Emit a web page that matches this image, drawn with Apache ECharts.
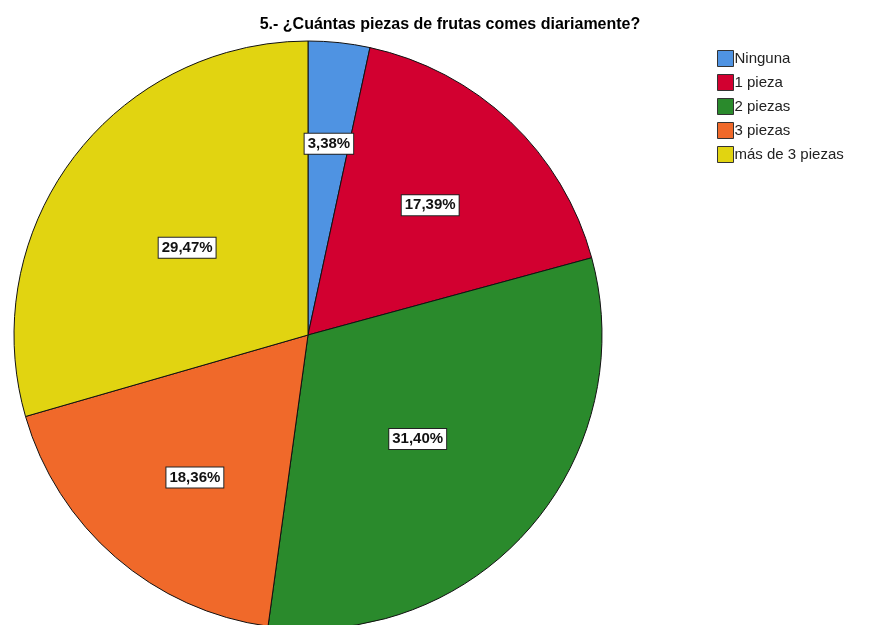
<!DOCTYPE html>
<html>
<head>
<meta charset="utf-8">
<script src="https://cdn.jsdelivr.net/npm/echarts@6/dist/echarts.min.js"></script>
<style>
  html, body { margin: 0; padding: 0; background: #fff; }
  #main { width: 885px; height: 625px; }
</style>
</head>
<body>
<div id="main"></div>
<script>
const categories = ['Ninguna', '1 pieza', '2 piezas', '3 piezas', 'más de 3 piezas'];
const values = [3.38, 17.39, 31.40, 18.36, 29.47];
const colors = ['#4F93E2', '#D20030', '#2A8A2C', '#F0692A', '#E1D411'];

const myChart = echarts.init(document.getElementById('main'));

const data = categories.map((name, i) => ({
  name: name,
  value: values[i],
  itemStyle: { color: colors[i] }
}));

// SPSS puts its labels a bit off the mid radius, nudge them
const nudge = [[5, -42], [19, -21], [-3, 5], [-15, 29], [-1, 3]];

const option = {
  animation: false,
  title: {
    text: '5.- ¿Cuántas piezas de frutas comes diariamente?',
    left: 445,
    textAlign: 'center',
    top: 12,
    textStyle: {
      fontFamily: 'Liberation Sans, Arial',
      fontSize: 16,
      fontWeight: 'bold',
      color: '#000'
    }
  },
  legend: {
    orient: 'vertical',
    left: 712,
    top: 45,
    itemWidth: 16,
    itemHeight: 16,
    itemGap: 7,
    icon: 'rect',
    itemStyle: { borderColor: '#333', borderWidth: 1 },
    textStyle: {
      fontFamily: 'Liberation Sans, Arial',
      fontSize: 15,
      color: '#222',
      padding: [0, 0, 0, -4]
    },
    data: categories
  },
  series: [
    {
      type: 'pie',
      center: [308, 335],
      radius: 294,
      startAngle: 90,
      clockwise: true,
      data: data,
      itemStyle: { borderColor: '#111', borderWidth: 1 },
      label: {
        show: true,
        position: 'inside',
        formatter: (p) => p.value.toFixed(2).replace('.', ',') + '%',
        fontFamily: 'Liberation Sans, Arial',
        fontSize: 15,
        fontWeight: 'bold',
        color: '#111',
        backgroundColor: '#fff',
        borderColor: '#222',
        borderWidth: 1,
        padding: [3, 3, 2, 3]
      },
      labelLayout: (p) => ({ dx: nudge[p.dataIndex][0], dy: nudge[p.dataIndex][1] }),
      labelLine: { show: false },
      emphasis: { disabled: true }
    }
  ]
};

myChart.setOption(option);
</script>
</body>
</html>
